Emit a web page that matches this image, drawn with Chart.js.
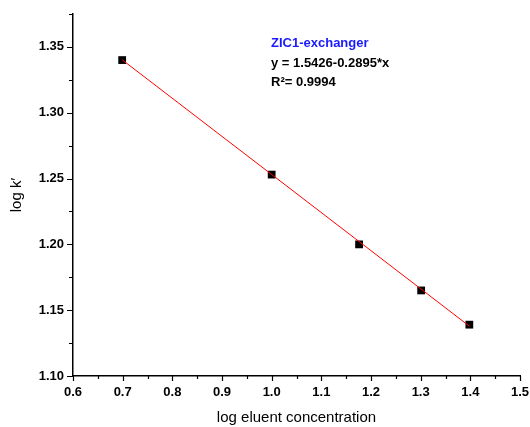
<!DOCTYPE html>
<html>
<head>
<meta charset="utf-8">
<script src="https://cdn.jsdelivr.net/npm/chart.js@4"></script>
<style>
    html, body { margin: 0; padding: 0; background: #fff; }
    #wrap { width: 530px; height: 427px; }
</style>
</head>
<body>
<div id="wrap"><canvas id="chart" width="530" height="427"></canvas></div>
<script>
// data
const logConc = [0.699, 1.0, 1.176, 1.301, 1.398];
const logK = [1.340, 1.253, 1.200, 1.165, 1.139];
// ends of the fitted red line
const fitX = [0.699, 1.398];
const fitY = [1.3402, 1.1379];
const xTicks = [0.6, 0.7, 0.8, 0.9, 1.0, 1.1, 1.2, 1.3, 1.4, 1.5];
const yTicks = [1.10, 1.15, 1.20, 1.25, 1.30, 1.35];
const notes = ['ZIC1-exchanger', 'y = 1.5426-0.2895*x', 'R\u00B2= 0.9994'];

const FONT = '"Liberation Sans", Arial, sans-serif';

// minor + major tick marks, and the text box in the corner
const tickMarks = {
    id: 'tickMarks',
    afterDraw(chart) {
        const ctx = chart.ctx;
        const xs = chart.scales.x, ys = chart.scales.y;
        const area = chart.chartArea;
        ctx.save();
        ctx.strokeStyle = '#000';
        ctx.lineWidth = 1.2;
        ctx.beginPath();
        xTicks.forEach((v, i) => {
            const px = Math.round(xs.getPixelForValue(v)) + 0.5;
            ctx.moveTo(px, area.bottom);
            ctx.lineTo(px, area.bottom + 5);
            if (i < xTicks.length - 1) {
                const mx = Math.round(xs.getPixelForValue((v + xTicks[i + 1]) / 2)) + 0.5;
                ctx.moveTo(mx, area.bottom);
                ctx.lineTo(mx, area.bottom + 3);
            }
        });
        yTicks.forEach((v, i) => {
            const py = Math.round(ys.getPixelForValue(v)) + 0.5;
            ctx.moveTo(area.left, py);
            ctx.lineTo(area.left - 6, py);
            const mv = i < yTicks.length - 1 ? (v + yTicks[i + 1]) / 2 : v + 0.025;
            const my = Math.round(ys.getPixelForValue(mv)) + 0.5;
            ctx.moveTo(area.left, my);
            ctx.lineTo(area.left - 4, my);
        });
        ctx.stroke();

        ctx.font = 'bold 13px ' + FONT;
        ctx.textBaseline = 'alphabetic';
        ctx.fillStyle = '#1a1aff';
        ctx.fillText(notes[0], 271, 47);
        ctx.fillStyle = '#000';
        ctx.fillText(notes[1], 271, 67);
        ctx.fillText(notes[2], 271, 86);
        ctx.restore();
    }
};

const ctx = document.getElementById('chart').getContext('2d');
const chart = new Chart(ctx, {
    type: 'scatter',
    data: {
        datasets: [{
            type: 'line',
            label: 'fit',
            data: fitX.map((x, i) => ({ x: x, y: fitY[i] })),
            borderColor: '#ff0000',
            borderWidth: 1,
            pointRadius: 0,
            fill: false,
            order: 0
        }, {
            label: 'log k',
            data: logConc.map((x, i) => ({ x: x, y: logK[i] })),
            pointStyle: 'rect',
            pointRadius: 5.5,
            backgroundColor: '#000',
            borderColor: '#000',
            borderWidth: 0,
            order: 1
        }]
    },
    options: {
        responsive: false,
        devicePixelRatio: 1,
        animation: false,
        layout: { padding: { top: 14, right: 10, left: 0, bottom: 0 } },
        plugins: { legend: { display: false }, tooltip: { enabled: false } },
        scales: {
            x: {
                type: 'linear',
                min: 0.6,
                max: 1.5,
                afterBuildTicks: s => { s.ticks = xTicks.map(v => ({ value: v })); },
                afterFit: s => { s.height = 51; s.paddingLeft = 0; s.paddingRight = 0; },
                ticks: {
                    callback: v => v.toFixed(1),
                    font: { family: FONT, size: 13, weight: 'bold' },
                    color: '#000',
                    padding: 9,
                    maxRotation: 0,
                    autoSkip: false
                },
                grid: { display: true, drawOnChartArea: false, drawTicks: false },
                border: { color: '#000', width: 1.5 },
                title: {
                    display: true,
                    text: 'log eluent concentration',
                    font: { family: FONT, size: 15 },
                    color: '#000',
                    padding: { top: 6, bottom: 0 }
                }
            },
            y: {
                type: 'linear',
                min: 1.10,
                max: 1.375,
                afterBuildTicks: s => { s.ticks = yTicks.map(v => ({ value: v })); },
                afterFit: s => { s.width = 73; s.paddingTop = 0; s.paddingBottom = 0; },
                ticks: {
                    callback: v => v.toFixed(2),
                    font: { family: FONT, size: 13, weight: 'bold' },
                    color: '#000',
                    padding: 9,
                    autoSkip: false
                },
                grid: { display: true, drawOnChartArea: false, drawTicks: false },
                border: { color: '#000', width: 1.5 },
                title: {
                    display: true,
                    text: 'log k\u2032',
                    font: { family: FONT, size: 15 },
                    color: '#000',
                    padding: { top: 8, bottom: 0 }
                }
            }
        }
    },
    plugins: [tickMarks]
});
</script>
</body>
</html>
